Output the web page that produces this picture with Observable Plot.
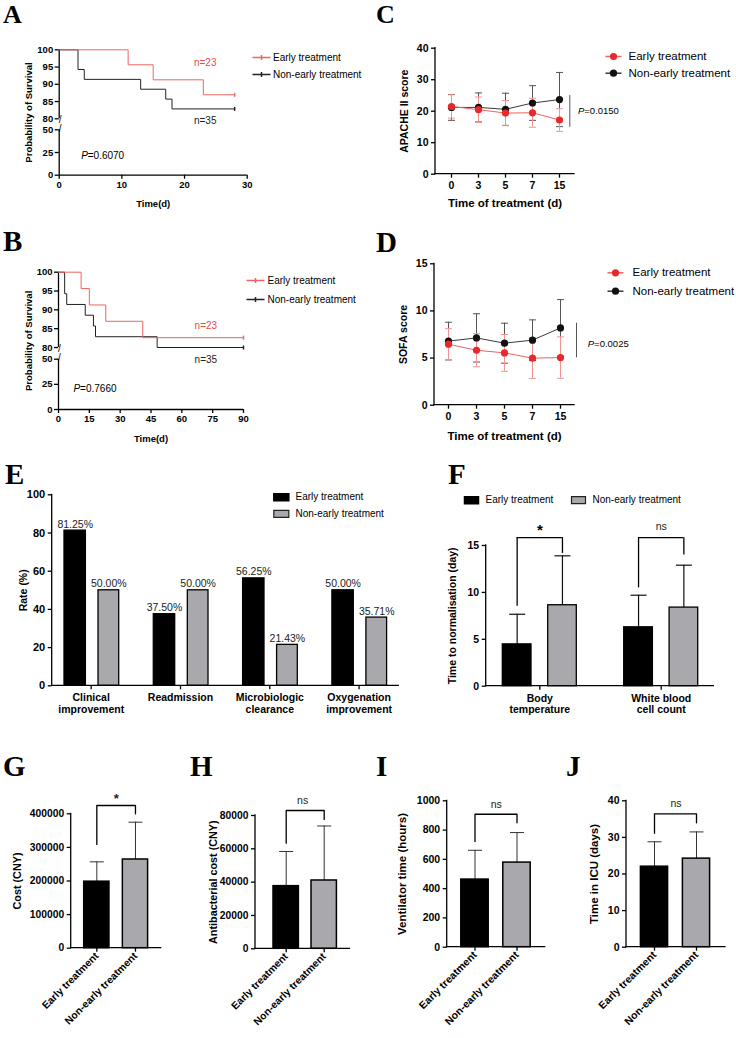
<!DOCTYPE html>
<html><head><meta charset="utf-8">
<script src="https://cdn.jsdelivr.net/npm/d3@7"></script>
<script src="https://cdn.jsdelivr.net/npm/@observablehq/plot@0.6"></script>
<style>
body{margin:0;background:#fff;}
#root{position:relative;width:736px;height:1038px;overflow:hidden;background:#fff;font-family:"Liberation Sans",Arial,sans-serif;}
.letter{position:absolute;font-family:"Liberation Serif","Times New Roman",serif;font-weight:bold;line-height:1;z-index:2;color:#000;}
.panel{position:absolute;}
.panel svg{background:transparent !important;overflow:visible;}
.panel svg g[aria-label$="-axis tick"]{stroke-width:1.3px;}
</style></head><body><div id="root"></div>
<script>
// ---------------- DATA ----------------
const groups = ["Early treatment", "Non-early treatment"];
const nEarly = 23, nNon = 35;

// A: 28-day survival (Kaplan–Meier)
const aEarlyDays = [0, 11, 15, 23, 28];
const aEarlySurv = [100, 95.65, 91.30, 86.96, 86.96];
const aNonDays = [0, 3, 4, 13, 17, 18, 28];
const aNonSurv = [100, 94.29, 91.43, 88.57, 85.71, 82.86, 82.86];
const aXTicks = [0, 10, 20, 30];
const aPValue = "0.6070";

// B: 90-day survival (Kaplan–Meier)
const bEarlyDays = [0, 11, 15, 23, 41, 90];
const bEarlySurv = [100, 95.65, 91.30, 86.96, 82.61, 82.61];
const bNonDays = [0, 3, 4, 13, 17, 18, 48, 90];
const bNonSurv = [100, 94.29, 91.43, 88.57, 85.71, 82.86, 80.00, 80.00];
const bXTicks = [0, 15, 30, 45, 60, 75, 90];
const bPValue = "0.7660";

// broken survival axis: upper segment 80–100, lower segment 0–50
const kmUpperTicks = [80, 85, 90, 95, 100];
const kmLowerTicks = [0, 25, 50];

// C: APACHE II score
const scoreDays = ["0", "3", "5", "7", "15"];
const cEarlyMean = [21.5, 20.5, 19.4, 19.5, 17.2];
const cEarlySD = [3.7, 4.0, 4.0, 4.6, 3.6];
const cNonMean = [21.2, 21.2, 20.6, 22.6, 23.7];
const cNonSD = [4.1, 4.6, 5.1, 5.5, 8.6];
const cYTicks = [0, 10, 20, 30, 40];
const cPValue = "0.0150";

// D: SOFA score
const dEarlyMean = [6.47, 5.83, 5.55, 4.99, 5.05];
const dEarlySD = [1.65, 1.75, 1.95, 2.15, 2.2];
const dNonMean = [6.8, 7.14, 6.58, 6.9, 8.2];
const dNonSD = [2.0, 2.56, 2.12, 2.15, 3.0];
const dYTicks = [0, 5, 10, 15];
const dPValue = "0.0025";

// E: rates
const eCategories = ["Clinical improvement", "Readmission", "Microbiologic clearance", "Oxygenation improvement"];
const eCategoryLabels = ["Clinical\nimprovement", "Readmission", "Microbiologic\nclearance", "Oxygenation\nimprovement"];
const eEarly = [81.25, 37.50, 56.25, 50.00];
const eNon = [50.00, 50.00, 21.43, 35.71];
const eYTicks = [0, 20, 40, 60, 80, 100];

// F: time to normalisation
const fCategories = ["Body temperature", "White blood cell count"];
const fCategoryLabels = ["Body\ntemperature", "White blood\ncell count"];
const fEarlyMean = [4.46, 6.28];
const fEarlySD = [3.21, 3.42];
const fNonMean = [8.63, 8.38];
const fNonSD = [5.27, 4.52];
const fSignif = ["*", "ns"];
const fYTicks = [0, 5, 10, 15];

// G–J
const gMean = [198000, 264000], gSD = [59000, 111000], gYTicks = [0, 100000, 200000, 300000, 400000];
const hMean = [37600, 41000], hSD = [20800, 32700], hYTicks = [0, 20000, 40000, 60000, 80000];
const iMean = [462, 578], iSD = [200, 205], iYTicks = [0, 200, 400, 600, 800, 1000];
const jMean = [22.0, 24.2], jSD = [6.8, 7.3], jYTicks = [0, 10, 20, 30, 40];

// ---------------- STYLE / HELPERS ----------------
const FONT = '"Liberation Sans", Arial, Helvetica, sans-serif';
const RED = "#e8292c", RED_LINE = "#ee6262", RED_ERR = "#f29494", RED_KM = "#ef6464", RED_TEXT = "#e84a4a";
const BLACK_LINE = "#3a3a3a", BLACK_ERR = "#555", GRAY = "#a9a9ad";
const root = document.getElementById("root");

function margins(box, f) {
  return {width: box.w, height: box.h, marginLeft: f.x0 - box.left, marginRight: box.left + box.w - f.x1,
          marginTop: f.y0 - box.top, marginBottom: box.top + box.h - f.y1};
}
function mount(svg, box) {
  const d = document.createElement("div");
  d.className = "panel";
  d.style.cssText = `left:${box.left}px;top:${box.top}px;width:${box.w}px;height:${box.h}px;`;
  d.appendChild(svg);
  root.appendChild(d);
}
function letter(ch, x, capTop, size) {
  const d = document.createElement("div");
  d.className = "letter";
  d.textContent = ch;
  d.style.fontSize = size + "px";
  d.style.left = x + "px";
  d.style.top = (capTop - size * 0.1755) + "px";
  root.appendChild(d);
}
function style(fs) {
  return {fontFamily: FONT, fontSize: fs + "px", fontWeight: "bold", background: "transparent", color: "#000", overflow: "visible"};
}
const hline = w => ({draw(ctx) { ctx.moveTo(-w / 2, 0); ctx.lineTo(w / 2, 0); }});
const vline = h => ({draw(ctx) { ctx.moveTo(0, -h / 2); ctx.lineTo(0, h / 2); }});
const kmKey = {draw(ctx) { ctx.moveTo(-9, 0); ctx.lineTo(9, 0); ctx.moveTo(0, -2.5); ctx.lineTo(0, 2.5); }};
const rectSym = (w, h) => ({draw(ctx) { ctx.rect(-w / 2, -h / 2, w, h); }});
function axisFrame() {
  return (index, scales, values, dims) => {
    const {width: W, height: H, marginLeft: L, marginRight: R, marginTop: T, marginBottom: B} = dims;
    const g = d3.create("svg:g").attr("stroke", "#000").attr("stroke-width", 1.3).attr("stroke-linecap", "square");
    g.append("line").attr("x1", L).attr("x2", L).attr("y1", T).attr("y2", H - B);
    g.append("line").attr("x1", L).attr("x2", W - R).attr("y1", H - B).attr("y2", H - B);
    return g.node();
  };
}
const one = v => [v];
const legendText = (label, anchor, dx, dy, fs) =>
  Plot.text(one(label), {frameAnchor: anchor, dx, dy, text: d => d, textAnchor: "start", lineAnchor: "middle", fontSize: fs, fontWeight: "normal"});
const yTitle = (label, dx, fs, dy = 0) =>
  Plot.text(one(label), {frameAnchor: "left", rotate: -90, dx, dy, text: d => d, textAnchor: "middle", lineAnchor: "middle", fontSize: fs});
const xTitle = (label, dy, fs) =>
  Plot.text(one(label), {frameAnchor: "bottom", dy, text: d => d, textAnchor: "middle", lineAnchor: "middle", fontSize: fs});

// ---------------- KM panels (A, B) ----------------
function kmPanel(c) {
  const E = c.earlyDays.map((d, i) => ({day: d, surv: c.earlySurv[i]}));
  const N = c.nonDays.map((d, i) => ({day: d, surv: c.nonSurv[i]}));
  const xOpts = {domain: [c.xTicks[0], c.xTicks[c.xTicks.length - 1]], ticks: c.xTicks, tickSize: 4, tickPadding: 2, label: null};
  const nLabel = (txt, at, fill) => Plot.text(one(txt), {x: () => at.x, y: () => at.y, text: d => d, fill, fontSize: 10, fontWeight: "normal"});
  const upperMarks = [
    Plot.ruleX([0], {stroke: "#000", strokeWidth: 1.3}),
    Plot.text([kmUpperTicks[0]], {x: () => 0, y: d => d, text: () => "/", fontSize: 10, fontWeight: "normal", dx: 1, dy: 1}),
    Plot.line(N, {x: "day", y: "surv", curve: "step-after", stroke: "#222", strokeWidth: 1}),
    Plot.line(E, {x: "day", y: "surv", curve: "step-after", stroke: RED_KM, strokeWidth: 1}),
    Plot.dot(N.slice(-1), {x: "day", y: "surv", symbol: vline(4), stroke: "#222", fill: "none"}),
    Plot.dot(E.slice(-1), {x: "day", y: "surv", symbol: vline(4), stroke: RED_KM, fill: "none"}),
    nLabel(`n=${nEarly}`, c.nEarlyAt, RED_TEXT),
    Plot.dot(one(groups[0]), {frameAnchor: "top-right", dx: c.leg.sx, dy: c.leg.y1, symbol: kmKey, stroke: RED_KM, fill: "none"}),
    Plot.dot(one(groups[1]), {frameAnchor: "top-right", dx: c.leg.sx, dy: c.leg.y2, symbol: kmKey, stroke: "#222", fill: "none"}),
    legendText(groups[0], "top-right", c.leg.tx, c.leg.y1, 10),
    legendText(groups[1], "top-right", c.leg.tx, c.leg.y2, 10),
    yTitle("Probability of Survival", c.yLabelDx, 9.5, c.yLabelDy)
  ];
  const lowerMarks = [
    Plot.ruleX([0], {stroke: "#000", strokeWidth: 1.3}),
    Plot.ruleY([0], {stroke: "#000", strokeWidth: 1.3}),
    Plot.text([kmLowerTicks[kmLowerTicks.length - 1]], {x: () => 0, y: d => d, text: () => "/", fontSize: 10, fontWeight: "normal", dx: 1, dy: -1}),
    Plot.text(one("P"), {x: () => c.pAt.x, y: () => c.pAt.y, text: d => d, textAnchor: "start", fontStyle: "italic", fontWeight: "normal", fontSize: 10}),
    Plot.text(one("=" + c.p), {x: () => c.pAt.x, y: () => c.pAt.y, text: d => d, textAnchor: "start", dx: 6.6, fontWeight: "normal", fontSize: 10}),
    xTitle("Time(d)", c.xLabelDy, 9.5)
  ];
  (c.nNonAt.part === "upper" ? upperMarks : lowerMarks).push(nLabel(`n=${nNon}`, c.nNonAt, "#222"));

  mount(Plot.plot({
    ...margins(c.upperBox, {x0: c.x0, x1: c.x1, y0: c.yPix[3], y1: c.yPix[2]}),
    style: style(c.fs),
    x: {...xOpts, axis: null},
    y: {domain: [80, 100], ticks: kmUpperTicks, tickSize: 4, tickPadding: 2, label: null},
    marks: upperMarks
  }), c.upperBox);
  mount(Plot.plot({
    ...margins(c.lowerBox, {x0: c.x0, x1: c.x1, y0: c.yPix[1], y1: c.yPix[0]}),
    style: style(c.fs),
    x: xOpts,
    y: {domain: [0, 50], ticks: kmLowerTicks, tickSize: 4, tickPadding: 2, label: null},
    marks: lowerMarks
  }), c.lowerBox);
}

// yPix: page y of 0, 50, 80, 100
kmPanel({
  upperBox: {left: 0, top: 28, w: 368, h: 96}, lowerBox: {left: 0, top: 124, w: 368, h: 89},
  x0: 58.7, x1: 246.7, yPix: [174.7, 129.3, 118.3, 49.3], xTicks: aXTicks, fs: 9.5,
  earlyDays: aEarlyDays, earlySurv: aEarlySurv, nonDays: aNonDays, nonSurv: aNonSurv,
  nEarlyAt: {x: 23.3, y: 96.3}, nNonAt: {part: "upper", x: 23.3, y: 79.5}, pAt: {x: 3.5, y: 21.7}, p: aPValue,
  leg: {sx: 14.3, tx: 25.8, y1: 7.7, y2: 24.7}, yLabelDx: -30.4, yLabelDy: 28.2, xLabelDy: 28.3
});
kmPanel({
  upperBox: {left: 0, top: 255, w: 368, h: 98}, lowerBox: {left: 0, top: 353, w: 368, h: 92},
  x0: 58, x1: 243, yPix: [409, 358.7, 347, 271.7], xTicks: bXTicks, fs: 9.5,
  earlyDays: bEarlyDays, earlySurv: bEarlySurv, nonDays: bNonDays, nonSurv: bNonSurv,
  nEarlyAt: {x: 71.7, y: 85.7}, nNonAt: {part: "lower", x: 71.7, y: 49.6}, pAt: {x: 7.3, y: 21}, p: bPValue,
  leg: {sx: 12, tx: 24, y1: 8.3, y2: 27.3}, yLabelDx: -30, yLabelDy: 31, xLabelDy: 29
});

// ---------------- Score panels (C, D) ----------------
function scorePanel(c) {
  const rows = (means, sds, g) => scoreDays.map((t, i) => ({t, g, mean: means[i], lo: means[i] - sds[i], hi: means[i] + sds[i]}));
  const E = rows(c.earlyMean, c.earlySD, groups[0]);
  const N = rows(c.nonMean, c.nonSD, groups[1]);
  const errs = (data, color) => [
    Plot.ruleX(data, {x: "t", y1: "lo", y2: "hi", stroke: color, strokeWidth: 1}),
    Plot.dot(data, {x: "t", y: "hi", symbol: hline(7), stroke: color, fill: "none", strokeWidth: 1}),
    Plot.dot(data, {x: "t", y: "lo", symbol: hline(7), stroke: color, fill: "none", strokeWidth: 1})
  ];
  const svg = Plot.plot({
    ...margins(c.box, c.frame),
    style: style(10.5),
    x: {type: "point", domain: scoreDays, padding: 0.5, tickSize: 4, tickPadding: 3, label: null},
    y: {domain: [c.yTicks[0], c.yTicks[c.yTicks.length - 1]], ticks: c.yTicks, tickSize: 4, tickPadding: 3, label: null},
    marks: [
      axisFrame(),
      ...errs(N, BLACK_ERR),
      ...errs(E, RED_ERR),
      Plot.line(N, {x: "t", y: "mean", stroke: BLACK_LINE, strokeWidth: 1}),
      Plot.line(E, {x: "t", y: "mean", stroke: RED_LINE, strokeWidth: 1}),
      Plot.dot(N, {x: "t", y: "mean", r: 3.6, fill: "#111"}),
      Plot.dot(E, {x: "t", y: "mean", r: 3.6, fill: RED}),
      Plot.ruleX(one(c.p), {x: null, y1: c.pRange[0], y2: c.pRange[1], dx: c.pRuleDx, stroke: "#555", strokeWidth: 1}),
      Plot.text(one("P"), {frameAnchor: "right", y: () => c.pY, text: d => d, dx: c.pTextDx, textAnchor: "start", lineAnchor: "middle", fontStyle: "italic", fontWeight: "normal", fontSize: 9.5}),
      Plot.text(one("=" + c.p), {frameAnchor: "right", y: () => c.pY, text: d => d, dx: c.pTextDx + 6.3, textAnchor: "start", lineAnchor: "middle", fontWeight: "normal", fontSize: 9.5}),
      Plot.dot(one(groups[0]), {frameAnchor: "top-right", dx: c.leg.sx, dy: c.leg.y1, symbol: hline(16), stroke: RED_LINE, fill: "none"}),
      Plot.dot(one(groups[0]), {frameAnchor: "top-right", dx: c.leg.sx, dy: c.leg.y1, r: 3.6, fill: RED}),
      Plot.dot(one(groups[1]), {frameAnchor: "top-right", dx: c.leg.sx, dy: c.leg.y2, symbol: hline(16), stroke: BLACK_LINE, fill: "none"}),
      Plot.dot(one(groups[1]), {frameAnchor: "top-right", dx: c.leg.sx, dy: c.leg.y2, r: 3.6, fill: "#111"}),
      legendText(groups[0], "top-right", c.leg.tx, c.leg.y1, 11.5),
      legendText(groups[1], "top-right", c.leg.tx, c.leg.y2, 11.5),
      yTitle(c.yLabel, c.yLabelDx, 10.5),
      xTitle("Time of treatment (d)", c.xLabelDy, 11.5)
    ]
  });
  mount(svg, c.box);
}

scorePanel({
  box: {left: 368, top: 28, w: 368, h: 190}, frame: {x0: 435, x1: 574, y0: 47.7, y1: 173.7},
  earlyMean: cEarlyMean, earlySD: cEarlySD, nonMean: cNonMean, nonSD: cNonSD, yTicks: cYTicks,
  p: cPValue, pRange: [25, 14.9], pRuleDx: 64.8, pY: 20.2, pTextDx: 3.5,
  leg: {sx: 39, tx: 54, y1: 8.3, y2: 25}, yLabel: "APACHE II score", yLabelDx: -30.7, xLabelDy: 29.5
});
scorePanel({
  box: {left: 368, top: 255, w: 368, h: 190}, frame: {x0: 434, x1: 574, y0: 263.3, y1: 404.7},
  earlyMean: dEarlyMean, earlySD: dEarlySD, nonMean: dNonMean, nonSD: dNonSD, yTicks: dYTicks,
  p: dPValue, pRange: [8.7, 5.03], pRuleDx: 72, pY: 6.54, pTextDx: 13.3,
  leg: {sx: 41, tx: 58, y1: 9, y2: 27.4}, yLabel: "SOFA score", yLabelDx: -30.7, xLabelDy: 31.5
});

// ---------------- E ----------------
(function () {
  const box = {left: 0, top: 485, w: 410, h: 240};
  const frame = {x0: 51.7, x1: 398.3, y0: 494.3, y1: 685.3};
  const rows = eCategories.map((cat, i) => ({cat, early: eEarly[i], non: eNon[i]}));
  const pct = v => v.toFixed(2) + "%";
  const svg = Plot.plot({
    ...margins(box, frame),
    style: style(11),
    x: {type: "band", domain: eCategories, range: [46.05 - box.left, 403.25 - box.left], padding: 0, round: false, label: null},
    y: {domain: [0, 100], ticks: eYTicks, tickSize: 4, tickPadding: 3, label: null},
    marks: [
      Plot.barY(rows, {x: "cat", y: "early", fill: "#000", stroke: "#000", strokeWidth: 1.3, insetLeft: 17.95, insetRight: 49.95}),
      Plot.barY(rows, {x: "cat", y: "non", fill: GRAY, stroke: "#000", strokeWidth: 1.3, insetLeft: 51.95, insetRight: 16.65}),
      axisFrame(),
      Plot.axisX({tickFormat: d => eCategoryLabels[eCategories.indexOf(d)], tickSize: 4, tickPadding: 3, lineHeight: 1.12, fontSize: 10.5, label: null}),
      Plot.text(rows, {x: "cat", y: "early", text: d => pct(d.early), dx: -16, dy: -3, lineAnchor: "bottom", fontSize: 10.5, fontWeight: "normal", fill: "#222"}),
      Plot.text(rows, {x: "cat", y: "non", text: d => pct(d.non), dx: 17.6, dy: -3, lineAnchor: "bottom", fontSize: 10.5, fontWeight: "normal", fill: "#222"}),
      Plot.dot(one(groups[0]), {frameAnchor: "top-left", dx: 229.1, dy: 2.4, symbol: rectSym(15, 7), fill: "#000", stroke: "#000"}),
      Plot.dot(one(groups[1]), {frameAnchor: "top-left", dx: 229.1, dy: 19, symbol: rectSym(15, 7), fill: GRAY, stroke: "#222", strokeWidth: 1.2}),
      legendText(groups[0], "top-left", 243.3, 2.4, 10),
      legendText(groups[1], "top-left", 243.3, 19, 10),
      yTitle("Rate (%)", -28.4, 10.5)
    ]
  });
  mount(svg, box);
})();

// ---------------- F ----------------
(function () {
  const box = {left: 410, top: 485, w: 326, h: 240};
  const frame = {x0: 485.7, x1: 713.3, y0: 545, y1: 685.7};
  const rows = fCategories.map((cat, i) => ({cat, early: fEarlyMean[i], earlyTop: fEarlyMean[i] + fEarlySD[i],
    non: fNonMean[i], nonTop: fNonMean[i] + fNonSD[i], sig: fSignif[i]}));
  const bracketTop = 15.83;
  const legLeft = [8.52, 10.48], legRight = [14.16, 13.98];
  const svg = Plot.plot({
    ...margins(box, frame),
    style: style(10.5),
    x: {type: "band", domain: fCategories, range: [478.6 - box.left, 721.4 - box.left], padding: 0, round: false, label: null},
    y: {domain: [0, 15], ticks: fYTicks, tickSize: 4, tickPadding: 3, label: null},
    marks: [
      Plot.ruleX(rows, {x: "cat", y1: "early", y2: "earlyTop", dx: -22.65, stroke: "#111", strokeWidth: 1.2}),
      Plot.dot(rows, {x: "cat", y: "earlyTop", dx: -22.65, symbol: hline(16), stroke: "#111", fill: "none", strokeWidth: 1.2}),
      Plot.ruleX(rows, {x: "cat", y1: "non", y2: "nonTop", dx: 22.65, stroke: "#111", strokeWidth: 1.2}),
      Plot.dot(rows, {x: "cat", y: "nonTop", dx: 22.65, symbol: hline(16), stroke: "#111", fill: "none", strokeWidth: 1.2}),
      Plot.barY(rows, {x: "cat", y: "early", fill: "#000", stroke: "#000", strokeWidth: 1.3, insetLeft: 23.7, insetRight: 69}),
      Plot.barY(rows, {x: "cat", y: "non", fill: GRAY, stroke: "#000", strokeWidth: 1.3, insetLeft: 69.1, insetRight: 23.7}),
      axisFrame(),
      Plot.axisX({tickFormat: d => fCategoryLabels[fCategories.indexOf(d)], tickSize: 4, tickPadding: 3, lineHeight: 1.12, fontSize: 10.5, label: null}),
      Plot.tickY(rows, {x: "cat", y: () => bracketTop, insetLeft: 38.05, insetRight: 38.05, stroke: "#000", strokeWidth: 1.3}),
      Plot.ruleX(rows, {x: "cat", y1: (d, i) => legLeft[i], y2: () => bracketTop, dx: -22.65, stroke: "#000", strokeWidth: 1.3}),
      Plot.ruleX(rows, {x: "cat", y1: (d, i) => legRight[i], y2: () => bracketTop, dx: 22.65, stroke: "#000", strokeWidth: 1.3}),
      Plot.text(rows.filter(d => d.sig === "*"), {x: "cat", y: () => bracketTop, text: "sig", dy: -8, fontSize: 15, fontWeight: "bold"}),
      Plot.text(rows.filter(d => d.sig !== "*"), {x: "cat", y: () => bracketTop, text: "sig", dy: -11, fontSize: 10.5, fontWeight: "normal", fill: "#222"}),
      Plot.dot(one(groups[0]), {frameAnchor: "top-left", dx: -14.7, dy: -45.3, symbol: rectSym(14, 7), fill: "#000", stroke: "#000"}),
      Plot.dot(one(groups[1]), {frameAnchor: "top-left", dx: 92.3, dy: -45.3, symbol: rectSym(14, 7), fill: GRAY, stroke: "#222", strokeWidth: 1.2}),
      legendText(groups[0], "top-left", -0.7, -45.3, 10),
      legendText(groups[1], "top-left", 106.3, -45.3, 10),
      yTitle("Time to normalisation (day)", -33.7, 10.5)
    ]
  });
  mount(svg, box);
})();

// ---------------- G–J ----------------
function costPanel(c) {
  const rows = groups.map((g, i) => ({g, mean: c.mean[i], top: c.mean[i] + c.sd[i]}));
  const br = c.bracket;
  const pts = [{g: groups[0], y: br.left}, {g: groups[0], y: br.top}, {g: groups[1], y: br.top}, {g: groups[1], y: br.right}];
  const star = c.sig === "*";
  const svg = Plot.plot({
    ...margins(c.box, c.frame),
    style: style(c.fs),
    x: {type: "band", domain: groups, range: c.xRange.map(v => v - c.box.left), padding: 0, round: false,
        tickRotate: -45, tickSize: 4, tickPadding: 2, label: null},
    y: {domain: [c.yTicks[0], c.yTicks[c.yTicks.length - 1]], ticks: c.yTicks, tickFormat: d => String(d), tickSize: 4, tickPadding: 3, label: null},
    marks: [
      Plot.ruleX(rows, {x: "g", y1: "mean", y2: "top", stroke: "#333", strokeWidth: 1}),
      Plot.dot(rows, {x: "g", y: "top", symbol: hline(14), stroke: "#333", fill: "none", strokeWidth: 1}),
      Plot.barY(rows.slice(0, 1), {x: "g", y: "mean", fill: "#000", stroke: "#000", strokeWidth: 1.5, insetLeft: c.inset, insetRight: c.inset}),
      Plot.barY(rows.slice(1), {x: "g", y: "mean", fill: GRAY, stroke: "#000", strokeWidth: 1.5, insetLeft: c.inset, insetRight: c.inset}),
      axisFrame(),
      Plot.line(pts, {x: "g", y: "y", stroke: "#000", strokeWidth: 1.3}),
      Plot.text(one(c.sig), {frameAnchor: "top", y: () => br.top, dy: star ? -7 : -10, text: d => d, lineAnchor: "middle",
        fontSize: star ? 13 : 10.5, fontWeight: star ? "bold" : "normal", fill: "#222"}),
      yTitle(c.yLabel, c.yLabelDx, c.labelFs)
    ]
  });
  mount(svg, c.box);
}
costPanel({box: {left: 0, top: 780, w: 185, h: 258}, frame: {x0: 70.7, x1: 160.7, y0: 813.3, y1: 947.7},
  xRange: [77, 154.3], inset: 6.7, mean: gMean, sd: gSD, yTicks: gYTicks, fs: 10.3,
  bracket: {left: 309000, top: 424700, right: 400000}, sig: "*", yLabel: "Cost (CNY)", yLabelDx: -53.4, labelFs: 10.8});
costPanel({box: {left: 185, top: 780, w: 185, h: 258}, frame: {x0: 255, x1: 349.3, y0: 815, y1: 948.3},
  xRange: [266.7, 342.7], inset: 6.3, mean: hMean, sd: hSD, yTicks: hYTicks, fs: 10.3,
  bracket: {left: 63400, top: 83000, right: 77600}, sig: "ns", yLabel: "Antibacterial cost (CNY)", yLabelDx: -41.7, labelFs: 10.8});
costPanel({box: {left: 370, top: 780, w: 183, h: 258}, frame: {x0: 446.7, x1: 544.7, y0: 800.3, y1: 946.7},
  xRange: [453.5, 537.5], inset: 7.3, mean: iMean, sd: iSD, yTicks: iYTicks, fs: 10.5,
  bracket: {left: 722, top: 908, right: 850}, sig: "ns", yLabel: "Ventilator time (hours)", yLabelDx: -45, labelFs: 11.5});
costPanel({box: {left: 553, top: 780, w: 183, h: 258}, frame: {x0: 626, x1: 725, y0: 800.3, y1: 946.7},
  xRange: [633, 717], inset: 7.4, mean: jMean, sd: jSD, yTicks: jYTicks, fs: 10.5,
  bracket: {left: 31.1, top: 36.45, right: 34.0}, sig: "ns", yLabel: "Time in ICU (days)", yLabelDx: -32, labelFs: 11.5});

// ---------------- Panel letters ----------------
letter("A", 3, 6.5, 26);
letter("C", 376, 6.5, 26);
letter("B", 3, 231.7, 29);
letter("D", 376, 233, 29);
letter("E", 5, 465, 29);
letter("F", 448, 465, 29);
letter("G", 3, 757, 29);
letter("H", 190, 757, 29);
letter("I", 376, 757, 29);
letter("J", 566, 757, 29);
</script></body></html>
